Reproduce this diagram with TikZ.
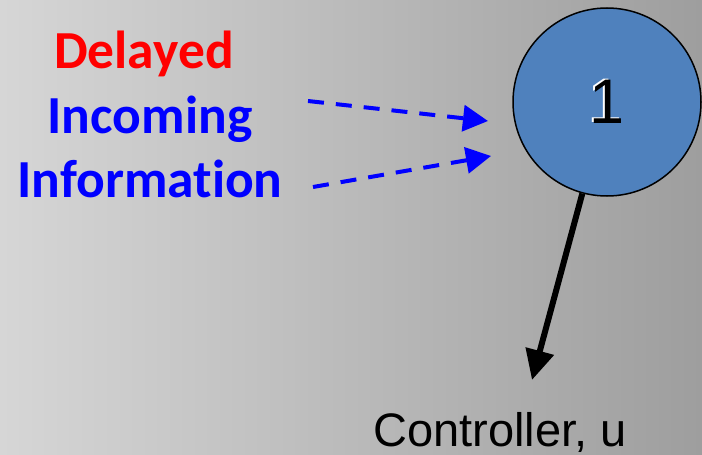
\documentclass[tikz,border=0pt]{standalone}
\usepackage{fontspec}
\setmainfont{Liberation Sans}
\newfontfamily\labelfont[Ligatures={NoCommon}]{Carlito}
\usetikzlibrary{arrows.meta}
\definecolor{bgleft}{RGB}{214,214,214}
\definecolor{bgright}{RGB}{158,158,158}
\definecolor{nodeblue}{RGB}{79,129,189}
\tikzset{
  infolabel/.style={font=\labelfont\bfseries\fontsize{53.5}{64.5}\selectfont, inner sep=0pt, anchor=base},
  delayarrow/.style={draw=blue, line width=4pt, dash pattern=on 16pt off 12pt,
    -{Triangle[length=25pt,width=26pt]}},
  ctrlarrow/.style={draw=black, line width=6pt, -{Triangle[length=30pt,width=28pt]}},
  statenode/.style={circle, draw=black, line width=1.5pt, fill=nodeblue, minimum size=188pt, inner sep=0pt}
}
\begin{document}
\begin{tikzpicture}[x=1pt,y=-1pt]
  % background
  \shade[left color=bgleft, right color=bgright] (0,0) rectangle (702,455);
  \useasboundingbox (0,0) rectangle (702,455);

  % text on the left
  \node[infolabel, text=red] (delayed) at (144,68) {Delayed};
  \node[infolabel, text=blue] (incoming) at (150,133) {Incoming};
  \node[infolabel, text=blue] (information) at (150,197) {Information};

  % the state node with an embossed numeral
  \node[statenode] (one) at (607,102) {};
  \node[text=white, inner sep=0pt, font=\fontsize{63}{63}\selectfont] at ([xshift=-1.5pt,yshift=1.5pt]one.center) {1};
  \node[text=black, inner sep=0pt, font=\fontsize{63}{63}\selectfont] (onelabel) at (one.center) {1};

  % delayed incoming information
  \coordinate (in1s) at (308,101);
  \coordinate (in1e) at (488,121);
  \coordinate (in2s) at (313,187);
  \coordinate (in2e) at (491,156);
  \draw[delayarrow] (in1s) -- (in1e);
  \draw[delayarrow] (in2s) -- (in2e);

  % controller output
  \node[inner sep=0pt, anchor=base, font=\fontsize{47}{47}\selectfont] (ctrl) at (500,446) {Controller, u};
  \coordinate (ctrltip) at (532,380);
  \draw[ctrlarrow] (one) -- (ctrltip);
\end{tikzpicture}
\end{document}
